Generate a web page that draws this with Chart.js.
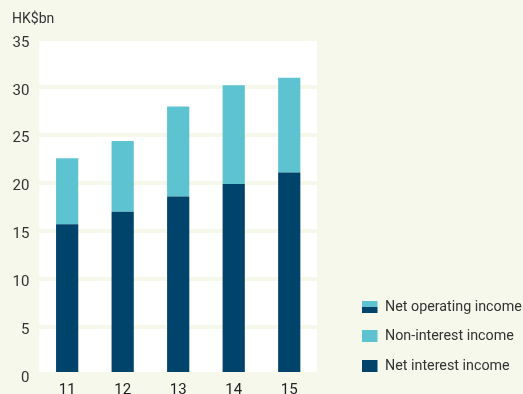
<!DOCTYPE html>
<html>
<head>
<meta charset="utf-8">
<script src="https://cdn.jsdelivr.net/npm/chart.js@4"></script>
<style>
  html, body { margin: 0; padding: 0; background: #f6f8ec; }
  #wrap { position: relative; width: 523px; height: 394px; }
  #unit { position: absolute; left: 12px; top: 10px; font: 14px Roboto, sans-serif; color: #333; }
  canvas { display: block; }
</style>
</head>
<body>
<div id="wrap">
  <div id="unit">HK$bn</div>
  <canvas id="c" width="523" height="394"></canvas>
</div>
<script>
// Years (20xx) and income split, HK$bn
const years = ['11', '12', '13', '14', '15'];
const netInterestIncome = [15.7, 17.0, 18.6, 19.9, 21.1];
const nonInterestIncome = [6.9, 7.4, 9.4, 10.3, 9.9];
const yTicks = [0, 5, 10, 15, 20, 25, 30, 35];
const legendLabels = ['Net operating income', 'Non-interest income', 'Net interest income'];

const BG = '#f6f8ec';
const DARK = '#00436b';
const LIGHT = '#5ec3d0';
const FONT = 'Roboto, sans-serif';

// White plot panel, page-coloured base strip, and the legend at the lower right
const frame = {
  id: 'frame',
  beforeDraw(chart) {
    const { ctx, chartArea: a } = chart;
    ctx.save();
    ctx.fillStyle = '#ffffff';
    ctx.fillRect(a.left, a.top, a.right - a.left, a.bottom - a.top);
    ctx.restore();
  },
  afterDatasetsDraw(chart) {
    const { ctx, chartArea: a } = chart;
    ctx.save();
    ctx.fillStyle = BG;
    ctx.fillRect(a.left - 1, a.bottom - 2.6, a.right - a.left + 2, 6);
    ctx.restore();
  },
  afterDraw(chart) {
    const { ctx } = chart;
    const x = 362, w = 15.5, h = 12;
    const rows = [301, 330, 360];
    ctx.save();
    ctx.font = '14.3px ' + FONT;
    ctx.textBaseline = 'middle';
    rows.forEach((y, i) => {
      if (i === 0) {
        ctx.fillStyle = LIGHT;
        ctx.fillRect(x, y, w, h / 2);
        ctx.fillStyle = DARK;
        ctx.fillRect(x, y + h / 2, w, h / 2);
      } else {
        ctx.fillStyle = i === 1 ? LIGHT : DARK;
        ctx.fillRect(x, y, w, h);
      }
      ctx.fillStyle = '#333333';
      ctx.fillText(legendLabels[i], 385, y + h / 2 + 0.5);
    });
    ctx.restore();
  }
};

new Chart(document.getElementById('c'), {
  type: 'bar',
  data: {
    labels: years,
    datasets: [
      { label: 'Net interest income', data: netInterestIncome, backgroundColor: DARK },
      { label: 'Non-interest income', data: nonInterestIncome, backgroundColor: LIGHT }
    ]
  },
  options: {
    responsive: false,
    animation: false,
    layout: { padding: { top: 39.4, right: 206, left: 0, bottom: 0 } },
    datasets: { bar: { categoryPercentage: 1, barPercentage: 0.4 } },
    plugins: { legend: { display: false }, tooltip: { enabled: false } },
    scales: {
      x: {
        stacked: true,
        grid: { display: false, drawTicks: false },
        border: { display: false },
        ticks: { color: '#222', font: { family: FONT, size: 15 }, padding: 7 },
        afterFit(s) { s.height = 19.4; }
      },
      y: {
        stacked: true,
        min: 0,
        max: 35,
        afterBuildTicks(s) { s.ticks = yTicks.map(v => ({ value: v })); },
        grid: { color: BG, lineWidth: 4, drawTicks: false },
        border: { display: false },
        ticks: { color: '#333', font: { family: FONT, size: 15 }, padding: 10, labelOffset: 3.5 },
        afterFit(s) { s.width = 39.4; }
      }
    }
  },
  plugins: [frame]
});
</script>
</body>
</html>
